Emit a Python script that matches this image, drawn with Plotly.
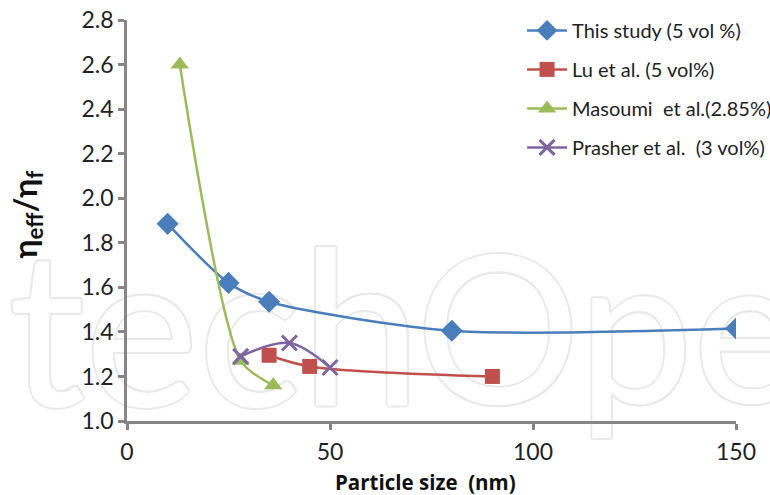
import plotly.graph_objects as go

# Relative viscosity vs particle size
study_x = [10, 25, 35, 80, 150]
study_y = [1.885, 1.62, 1.535, 1.405, 1.415]

lu_x = [35, 45, 90]
lu_y = [1.295, 1.245, 1.20]

masoumi_x = [13, 28, 36]
masoumi_y = [2.60, 1.27, 1.16]

prasher_x = [28, 40, 50]
prasher_y = [1.29, 1.35, 1.24]

x_ticks = [0, 50, 100, 150]
y_ticks = [1.0, 1.2, 1.4, 1.6, 1.8, 2.0, 2.2, 2.4, 2.6, 2.8]

FONT = "Lato"
AXIS_GRAY = "#868686"

fig = go.Figure()

# faint outlined publisher mark behind the data
mark_col = "#e9e9e9"
offs = [(2, 0), (-2, 0), (0, 2), (0, -2), (1.4, 1.4), (-1.4, 1.4), (1.4, -1.4), (-1.4, -1.4)]
shadow = ", ".join(f"{dx}px {dy}px 0 {mark_col}" for dx, dy in offs)
for txt, pos, xv, fsize in [("Intech", "middle left", 72.4, 215), ("Open", "middle right", 71.2, 205)]:
    fig.add_trace(go.Scatter(
        x=[xv], y=[1.31], mode="text", text=[txt], textposition=pos,
        textfont=dict(family=FONT, size=fsize, color="white", shadow=shadow),
        cliponaxis=False, showlegend=False, hoverinfo="skip",
    ))

series = [
    ("This study (5 vol %)", study_x, study_y, "#4a7ebb", "diamond", 17, 0.75),
    ("Lu et al. (5 vol%)", lu_x, lu_y, "#c0504d", "square", 15, 0.9),
    ("Masoumi  et al.(2.85%)", masoumi_x, masoumi_y, "#9bbb59", "triangle-up", 16, 0.7),
    ("Prasher et al.  (3 vol%)", prasher_x, prasher_y, "#8064a2", "x-thin", 15, 1.0),
]
for i, (name, xs, ys, col, sym, sz, sm) in enumerate(series):
    marker = dict(symbol=sym, size=sz, color=col)
    if sym == "x-thin":
        marker["line"] = dict(color=col, width=3)
    fig.add_trace(go.Scatter(
        x=xs, y=ys, name=name, mode="lines+markers",
        line=dict(color=col, width=2.5, shape="spline", smoothing=sm),
        marker=marker, legendgroup=f"g{i}",
    ))

fig.update_layout(
    width=770, height=495,
    margin=dict(l=127, r=34, t=20, b=74, autoexpand=False),
    paper_bgcolor="white", plot_bgcolor="white",
    font=dict(family=FONT, size=20, color="#222222"),
    showlegend=True,
    legend=dict(
        xref="container", yref="container",
        x=0.678, y=0.978, xanchor="left", yanchor="top",
        bgcolor="rgba(0,0,0,0)", font=dict(size=20, color="#222222"),
        itemwidth=40, tracegroupgap=10,
    ),
    xaxis=dict(
        range=[0, 150], tickvals=x_ticks, showgrid=False, zeroline=False,
        showline=True, linecolor=AXIS_GRAY, linewidth=2.5,
        ticks="outside", ticklen=6, tickwidth=2.5, tickcolor=AXIS_GRAY,
        tickfont=dict(size=23), ticklabelstandoff=3, fixedrange=True,
        automargin=False,
    ),
    yaxis=dict(
        range=[1.0, 2.8], tickvals=y_ticks, tickformat=".1f",
        showgrid=False, zeroline=False,
        showline=True, linecolor=AXIS_GRAY, linewidth=2.5,
        ticks="outside", ticklen=6, tickwidth=2.5, tickcolor=AXIS_GRAY,
        tickfont=dict(size=23), fixedrange=True, automargin=False,
    ),
    annotations=[
        dict(text="<b>Particle size  (nm)</b>", xref="paper", yref="paper",
             x=0.49, y=-0.152, xanchor="center", yanchor="middle",
             showarrow=False, font=dict(family="Open Sans", size=20.5, color="#111111")),
        dict(text="<b>η<sub>eff</sub>/η<sub>f</sub></b>", xref="paper", yref="paper",
             x=-0.164, y=0.515, xanchor="center", yanchor="middle", textangle=-90,
             showarrow=False, font=dict(size=32, color="#111111")),
    ],
)

fig.write_html("out.html")
